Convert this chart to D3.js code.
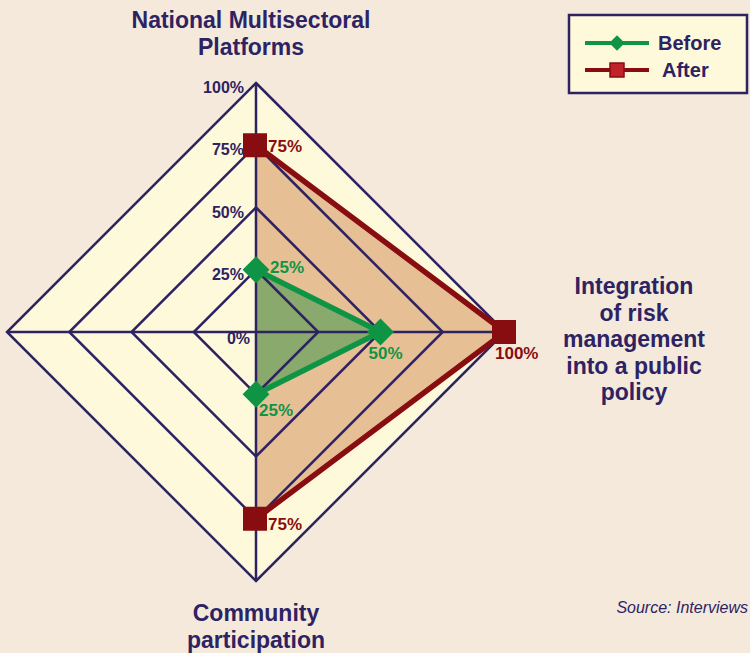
<!DOCTYPE html>
<html>
<head>
<meta charset="utf-8">
<title>Radar chart - before and after</title>
<script src="https://d3js.org/d3.v7.min.js"></script>
<style>
  body { margin: 0; background: #f5e9dc; }
  text { font-family: "Liberation Sans Narrow", "Arial Narrow", sans-serif; font-weight: bold; }
</style>
</head>
<body>
<div id="chart"></div>
<script>
// axes go clockwise from the top
var axisLabels = [
  ["National Multisectoral", "Platforms"],
  ["Integration", "of risk", "management", "into a public", "policy"],
  ["Community", "participation"],
  []
];
var levels = [0, 0.25, 0.5, 0.75, 1];
var levelLabels = ["0%", "25%", "50%", "75%", "100%"];
var seriesNames = ["Before", "After"];
var beforeValues = [0.25, 0.5, 0.25, 0];
var afterValues = [0.75, 1, 0.75, 0];

var width = 750, height = 653;
var cx = 256, cy = 332, radius = 249;
var navy = "#2d2362";
var green = "#0f9445", red = "#880d10";

var svg = d3.select("#chart").append("svg")
  .attr("width", width)
  .attr("height", height);

var r = d3.scaleLinear().domain([0, 1]).range([0, radius]);
var angle = d3.scalePoint().domain(d3.range(4)).range([0, Math.PI * 1.5]);

var g = svg.append("g").attr("transform", "translate(" + cx + "," + cy + ")");

function pt(i, v) {
  var a = angle(i);
  return [r(v) * Math.sin(a), -r(v) * Math.cos(a)];
}

var ringLine = d3.lineRadial()
  .angle(function(d, i) { return angle(i); })
  .radius(function(d) { return r(d); })
  .curve(d3.curveLinearClosed);

var pathLine = d3.lineRadial()
  .angle(function(d, i) { return angle(i); })
  .radius(function(d) { return r(d); });

// background diamond
g.append("path")
  .attr("d", ringLine([1, 1, 1, 1]))
  .attr("fill", "#fef9da");

// series fills (after first, before on top)
g.append("path").attr("d", ringLine(afterValues)).attr("fill", "#e6bf95");
g.append("path").attr("d", ringLine(beforeValues)).attr("fill", "#8aa96c");

// grid
levels.slice(1).forEach(function(l) {
  g.append("path")
    .attr("d", ringLine([l, l, l, l]))
    .attr("fill", "none")
    .attr("stroke", navy)
    .attr("stroke-width", 2.5);
});
d3.range(4).forEach(function(i) {
  var p = pt(i, 1);
  g.append("line")
    .attr("x1", 0).attr("y1", 0)
    .attr("x2", p[0]).attr("y2", p[1])
    .attr("stroke", navy)
    .attr("stroke-width", 2.5);
});

// level labels along the top axis
g.selectAll(".lvl")
  .data(levels)
  .enter().append("text")
  .attr("x", function(d) { return d === 0 ? -6 : -12; })
  .attr("y", function(d) { return -r(d) + (d === 0 ? 12 : 10); })
  .attr("text-anchor", "end")
  .attr("font-size", 16)
  .attr("fill", navy)
  .text(function(d, i) { return levelLabels[i]; });

// series lines (only through non-zero points)
g.append("path")
  .attr("d", pathLine(afterValues.slice(0, 3)))
  .attr("fill", "none")
  .attr("stroke", red)
  .attr("stroke-width", 5.5);
g.append("path")
  .attr("d", pathLine(beforeValues.slice(0, 3)))
  .attr("fill", "none")
  .attr("stroke", green)
  .attr("stroke-width", 5.5);

// markers
afterValues.slice(0, 3).forEach(function(v, i) {
  var p = pt(i, v);
  g.append("rect")
    .attr("x", p[0] - 13).attr("y", p[1] - 12)
    .attr("width", 24).attr("height", 24)
    .attr("fill", red);
});
beforeValues.slice(0, 3).forEach(function(v, i) {
  var p = pt(i, v);
  g.append("path")
    .attr("d", d3.symbol(d3.symbolSquare, 360)())
    .attr("transform", "translate(" + p[0] + "," + p[1] + ") rotate(45)")
    .attr("fill", green);
});

// value labels
var afterOffsets = [[12, 7], [-10, 27], [12, 11]];
var beforeOffsets = [[14, 3], [-12, 27], [3, 22]];
afterValues.slice(0, 3).forEach(function(v, i) {
  var p = pt(i, v);
  g.append("text")
    .attr("x", p[0] + afterOffsets[i][0])
    .attr("y", p[1] + afterOffsets[i][1])
    .attr("font-size", 17)
    .attr("fill", red)
    .text(d3.format(".0%")(v));
});
beforeValues.slice(0, 3).forEach(function(v, i) {
  var p = pt(i, v);
  g.append("text")
    .attr("x", p[0] + beforeOffsets[i][0])
    .attr("y", p[1] + beforeOffsets[i][1])
    .attr("font-size", 17)
    .attr("fill", green)
    .text(d3.format(".0%")(v));
});

// axis titles
var titlePos = [[-5, -304], [378, -38], [0, 289]];
titlePos.forEach(function(pos, i) {
  var t = g.append("text")
    .attr("text-anchor", "middle")
    .attr("font-size", 23)
    .attr("fill", navy);
  axisLabels[i].forEach(function(line, j) {
    t.append("tspan")
      .attr("x", pos[0])
      .attr("y", pos[1] + j * 26.5)
      .text(line);
  });
});

// legend
var legend = svg.append("g").attr("transform", "translate(569,15)");
legend.append("rect")
  .attr("width", 178).attr("height", 78)
  .attr("fill", "#fef9da")
  .attr("stroke", navy)
  .attr("stroke-width", 2.5);
seriesNames.forEach(function(name, i) {
  var y = 28 + i * 27;
  var col = i === 0 ? green : red;
  legend.append("line")
    .attr("x1", 16).attr("x2", 80)
    .attr("y1", y).attr("y2", y)
    .attr("stroke", col)
    .attr("stroke-width", 4);
  if (i === 0) {
    legend.append("path")
      .attr("d", d3.symbol(d3.symbolSquare, 120)())
      .attr("transform", "translate(48," + y + ") rotate(45)")
      .attr("fill", green);
  } else {
    legend.append("rect")
      .attr("x", 41).attr("y", y - 7)
      .attr("width", 14).attr("height", 14)
      .attr("fill", "#c1232b")
      .attr("stroke", red)
      .attr("stroke-width", 1.5);
  }
  legend.append("text")
    .attr("x", i === 0 ? 89 : 93)
    .attr("y", y + 7)
    .attr("font-size", 20)
    .attr("fill", navy)
    .text(name);
});

// source note
svg.append("text")
  .attr("x", 748)
  .attr("y", 613)
  .attr("text-anchor", "end")
  .attr("font-size", 16)
  .style("font-weight", "normal")
  .style("font-style", "italic")
  .attr("fill", navy)
  .text("Source: Interviews");
</script>
</body>
</html>
